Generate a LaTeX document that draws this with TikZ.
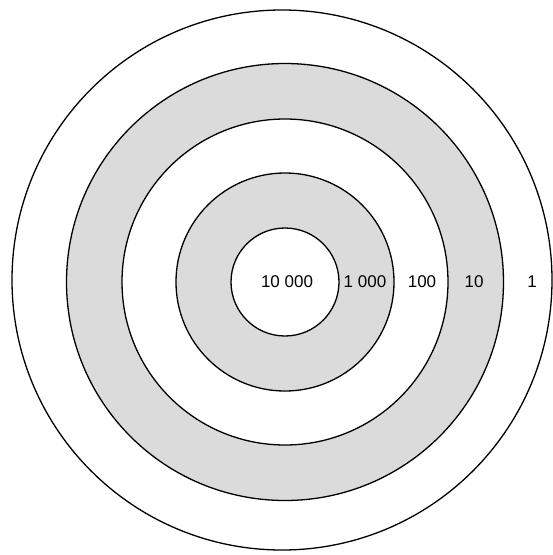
\documentclass[tikz,border=0pt]{standalone}
\usepackage{fontspec}
\setmainfont{Liberation Sans}
\begin{document}
\begin{tikzpicture}[x=1pt,y=-1pt,
  ring/.style={draw=black,line width=1.3pt},
  shade/.style={fill=black!14,even odd rule},
  lbl/.style={font=\fontsize{17}{20}\selectfont,inner sep=0pt}]
\useasboundingbox (0,0) rectangle (553,555);
\fill[white] (0,0) rectangle (553,555);
\coordinate (o) at (285,282);
\fill[shade] (o) circle[radius=218.5] (o) circle[radius=163];
\fill[shade] (o) circle[radius=109] (o) circle[radius=54];
\draw[ring] (282,280) circle[radius=270];
\draw[ring] (o) circle[radius=218.5];
\draw[ring] (o) circle[radius=163];
\draw[ring] (o) circle[radius=109];
\draw[ring] (o) circle[radius=54];
\node[lbl] (l4) at (287,282) {10 000};
\node[lbl] (l3) at (365,282) {1 000};
\node[lbl] (l2) at (422,282) {100};
\node[lbl] (l1) at (474,282) {10};
\node[lbl] (l0) at (532,282) {1};
\end{tikzpicture}
\end{document}
